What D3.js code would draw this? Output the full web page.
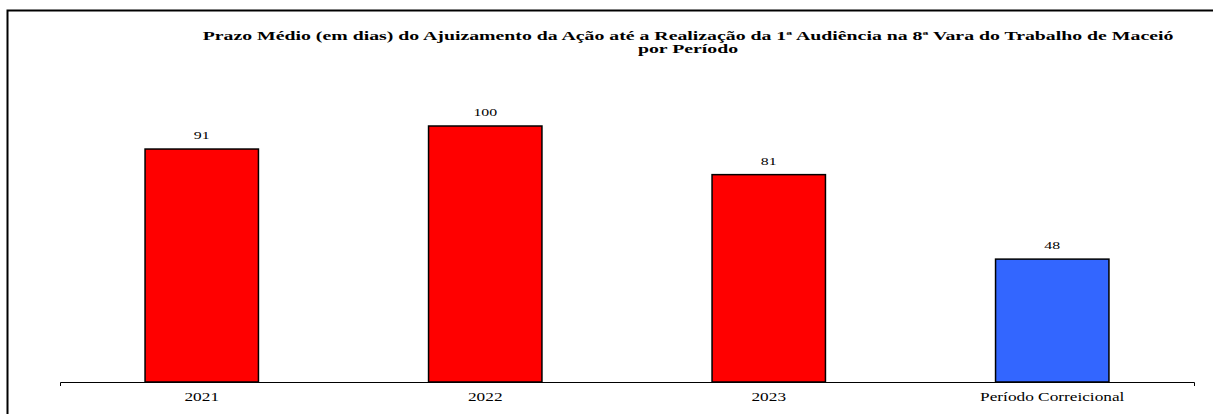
<!DOCTYPE html>
<html>
<head>
<meta charset="utf-8">
<script src="https://cdn.jsdelivr.net/npm/d3@7"></script>
<style>
  html, body { margin: 0; padding: 0; background: #fff; overflow: hidden; }
  svg { display: block; }
  text { font-family: "Liberation Serif", "Times New Roman", serif; fill: #000; }
</style>
</head>
<body>
<svg id="chart" width="1213" height="414"></svg>
<script>
const categories = ["2021", "2022", "2023", "Período Correicional"];
const values = [91, 100, 81, 48];
const barColors = ["#FF0000", "#FF0000", "#FF0000", "#3366FF"];
const titleLines = [
  "Prazo Médio (em dias) do Ajuizamento da Ação até a Realização da 1ª Audiência na 8ª Vara do Trabalho de Maceió",
  "por Período"
];

const svg = d3.select("#chart");
const W = 1213, H = 414;
const SX = 1.44;
const TSX = 1.65;

// frame
svg.append("rect")
  .attr("x", 7.5).attr("y", 10.5)
  .attr("width", W + 20).attr("height", H + 20)
  .attr("fill", "none").attr("stroke", "#000").attr("stroke-width", 2);

const x = d3.scaleBand().domain(categories).range([60, 1194]).paddingInner(0.6).paddingOuter(0.3);
const y = d3.scaleLinear().domain([0, 100]).range([382, 126]);

// bars
svg.append("g").selectAll("rect")
  .data(categories)
  .join("rect")
  .attr("x", d => x(d))
  .attr("y", (d, i) => y(values[i]))
  .attr("width", x.bandwidth())
  .attr("height", (d, i) => y(0) - y(values[i]))
  .attr("fill", (d, i) => barColors[i])
  .attr("stroke", "#000")
  .attr("stroke-width", 1.5);

// value labels
svg.append("g").selectAll("text")
  .data(categories)
  .join("text")
  .attr("transform", (d, i) => `translate(${x(d) + x.bandwidth() / 2},${y(values[i]) - 10}) scale(${SX},1)`)
  .attr("text-anchor", "middle")
  .attr("font-size", 11)
  .text((d, i) => values[i]);

// axis
const axis = d3.axisBottom(x).tickSizeInner(0).tickSizeOuter(4).tickPadding(10);
const gx = svg.append("g").attr("transform", `translate(0,${y(0)})`).call(axis);
gx.select(".domain").attr("stroke", "#000").attr("stroke-width", 1);
gx.selectAll(".tick text")
  .attr("font-family", "Liberation Serif, serif")
  .attr("font-size", 12)
  .attr("fill", "#000")
  .attr("transform", `scale(${SX},1)`);

// title
svg.append("g").selectAll("text")
  .data(titleLines)
  .join("text")
  .attr("transform", (d, i) => `translate(688,${40 + i * 13}) scale(${TSX},1)`)
  .attr("text-anchor", "middle")
  .attr("font-size", 12)
  .attr("font-weight", "bold")
  .text(d => d);
</script>
</body>
</html>
